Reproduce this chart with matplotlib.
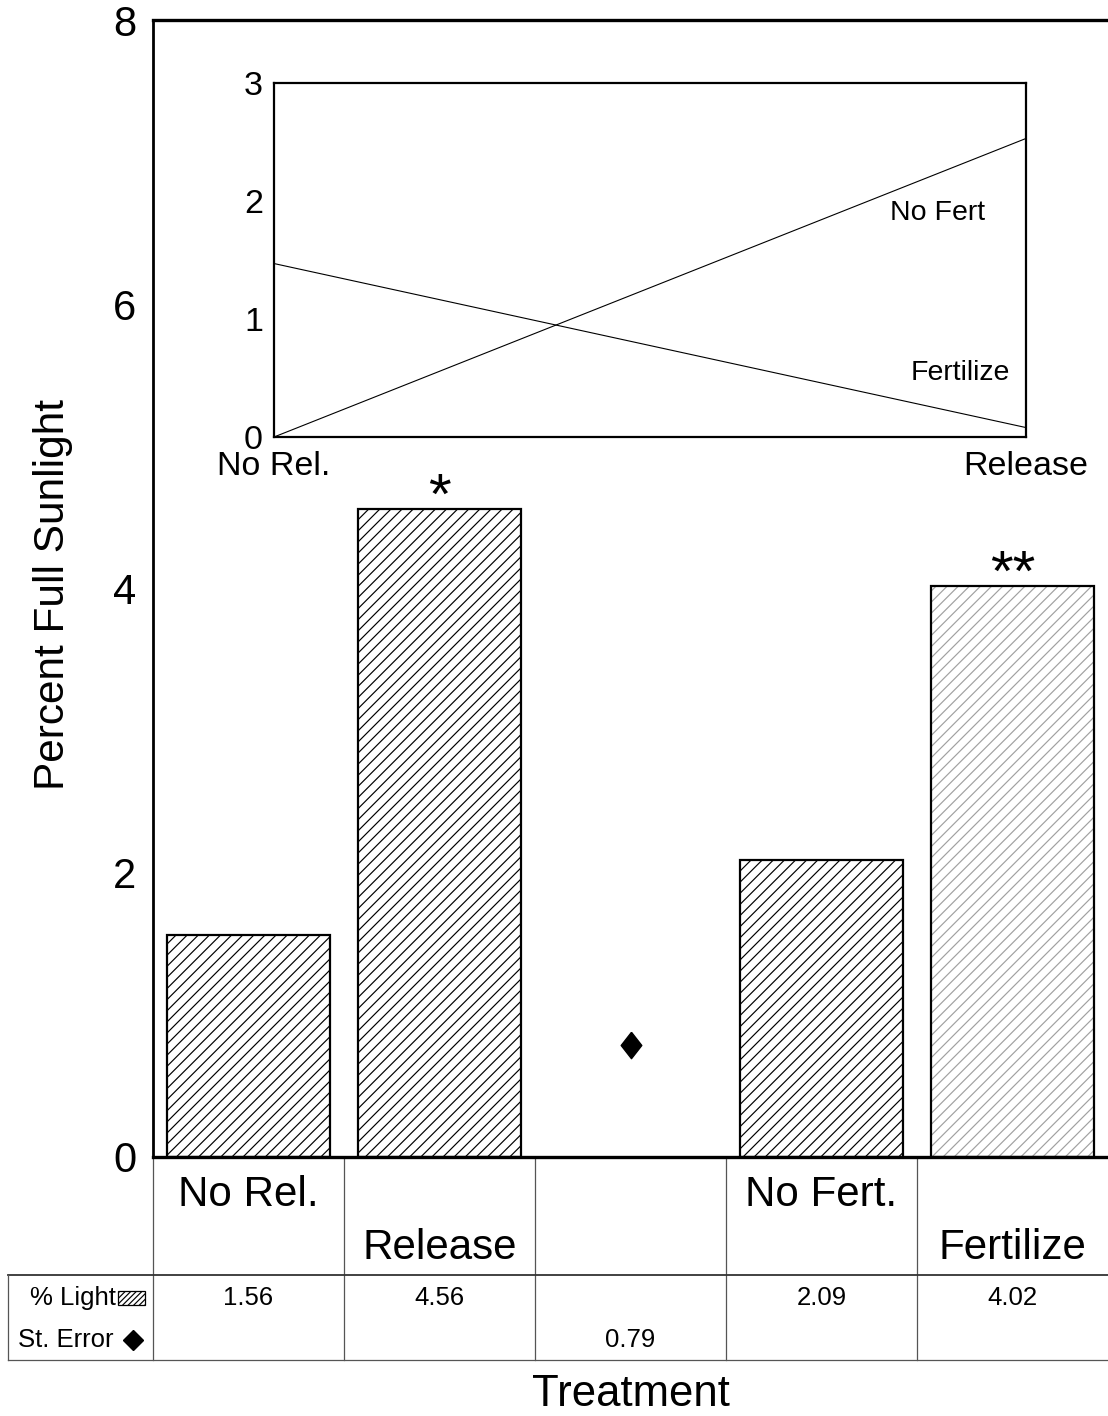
import matplotlib.pyplot as plt
from matplotlib.patches import Rectangle

plt.rcParams['font.family'] = ['Liberation Sans', 'DejaVu Sans']
plt.rcParams['hatch.linewidth'] = 0.85

# main bar chart data
treatments = ['No Rel.', 'Release', '', 'No Fert.', 'Fertilize']
light = [1.56, 4.56, None, 2.09, 4.02]
st_error = [None, None, 0.79, None, None]
stars = ['', '*', '', '', '**']

# inset interaction plot data
inset_ticks = ['No Rel.', 'Release']
no_fert = [0.0, 2.53]
fertilize = [1.47, 0.08]

W, H = 1108, 1416
fig = plt.figure(figsize=(W / 100, H / 100), dpi=100)

# axes box in pixels: left 153, right 1108, top 20, bottom 1157
L, R, T, B = 153, 1108, 20, 1157
ax = fig.add_axes([L / W, (H - B) / H, (R - L) / W, (B - T) / H])


def ay(py):
    # pixel row -> axes fraction
    return (B - py) / (B - T)


def axx(px):
    return (px - L) / (R - L)


diamond = [(0, 1), (0.78, 0), (0, -1), (-0.78, 0), (0, 1)]

xs = range(len(treatments))
for i, v in zip(xs, light):
    if v is None:
        continue
    if i == 4:
        # lighter stippled fill for the last bar
        ax.bar(i, v, width=0.853, color='white', edgecolor='#a0a0a0',
               hatch='///', linewidth=0)
        ax.bar(i, v, width=0.853, fill=False, edgecolor='black', linewidth=1.6)
    else:
        ax.bar(i, v, width=0.853, color='white', edgecolor='black',
               hatch='///', linewidth=1.6)

for i, v in zip(xs, st_error):
    if v is not None:
        ax.plot(i, v, marker=diamond, color='black', markersize=19,
                linestyle='none')

for i, (v, s) in enumerate(zip(light, stars)):
    if s:
        ax.annotate(s, (i, v), xytext=(0, -12), textcoords='offset points',
                    ha='center', va='bottom', fontsize=42)

ax.set_xlim(-0.5, 4.5)
ax.set_ylim(0, 8)
ax.set_yticks([0, 2, 4, 6, 8])
ax.set_xticks([])
ax.tick_params(axis='y', length=0, pad=12, labelsize=30)
ax.spines['right'].set_visible(False)
ax.spines['left'].set_linewidth(2)
ax.spines['top'].set_linewidth(2.4)
ax.spines['bottom'].set_linewidth(2.4)

ax.set_ylabel('Percent Full Sunlight', fontsize=30.5, rotation=90,
              ha='center', va='center')
ax.yaxis.set_label_coords(axx(53), ay(595))
ax.set_xlabel('Treatment', fontsize=31.5, va='center')
ax.xaxis.set_label_coords(0.5, ay(1394))

# table under the axis
tx = ax.get_xaxis_transform()
grid = dict(color='#555555', linewidth=0.9, clip_on=False)
for xb in [-0.5, 0.5, 1.5, 2.5, 3.5]:
    ax.plot([xb, xb], [0, ay(1360)], transform=tx, **grid)
ax.plot([axx(8), 1.0], [ay(1275), ay(1275)], transform=ax.transAxes,
        color='#333333', linewidth=1.3, clip_on=False)
ax.plot([axx(8), 1.0], [ay(1360), ay(1360)], transform=ax.transAxes, **grid)
ax.plot([axx(8), axx(8)], [ay(1275), ay(1360)], transform=ax.transAxes, **grid)

for i, name in enumerate(treatments):
    if not name:
        continue
    yrow = ay(1195) if i % 3 == 0 else ay(1248)
    ax.text(i, yrow, name, transform=tx, ha='center', va='center',
            fontsize=30.3)

for i, v in enumerate(light):
    if v is not None:
        ax.text(i, ay(1298), f'{v:.2f}', transform=tx, ha='center',
                va='center', fontsize=18.5)
for i, v in enumerate(st_error):
    if v is not None:
        ax.text(i, ay(1340), f'{v:.2f}', transform=tx, ha='center',
                va='center', fontsize=18.5)

ax.text(axx(116), ay(1298), '% Light', transform=ax.transAxes, ha='right',
        va='center', fontsize=18.5)
ax.add_patch(Rectangle((axx(118), ay(1305)), 27 / (R - L), 14 / (B - T),
                       transform=ax.transAxes, clip_on=False, hatch='//////',
                       facecolor='white', edgecolor='black', linewidth=0.9))
ax.text(axx(113), ay(1340), 'St. Error', transform=ax.transAxes, ha='right',
        va='center', fontsize=18.5)
ax.plot(axx(133), ay(1340), marker='D', color='black', markersize=10,
        transform=ax.transAxes, clip_on=False)

# inset: left 274, right 1026, top 83, bottom 437
iL, iR, iT, iB = 274, 1026, 83, 437
ins = fig.add_axes([iL / W, (H - iB) / H, (iR - iL) / W, (iB - iT) / H])
ins.plot([0, 1], no_fert, color='black', linewidth=0.8)
ins.plot([0, 1], fertilize, color='black', linewidth=0.8)
ins.set_xlim(0, 1)
ins.set_ylim(0, 3)
ins.set_yticks([0, 1, 2, 3])
ins.set_xticks([0, 1])
ins.set_xticklabels(inset_ticks)
ins.tick_params(length=0, labelsize=24.5)
ins.tick_params(axis='y', pad=8)
ins.tick_params(axis='x', pad=10)
for sp in ins.spines.values():
    sp.set_linewidth(1.6)
ins.text(0.882, 1.90, 'No Fert', ha='center', va='center', fontsize=20.5)
ins.text(0.912, 0.54, 'Fertilize', ha='center', va='center', fontsize=20.5)

fig.savefig('out.png', dpi=100)
